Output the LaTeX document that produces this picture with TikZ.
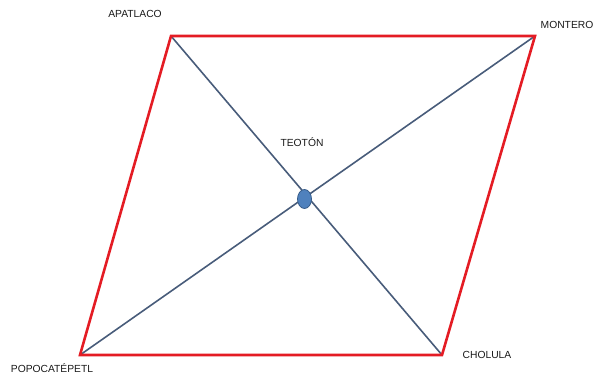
\documentclass[tikz,border=0pt]{standalone}
\usepackage{fontspec}
\setmainfont{Liberation Sans}
\definecolor{edgered}{RGB}{228,28,36}
\definecolor{diagblue}{RGB}{72,92,122}
\definecolor{hubfill}{RGB}{79,129,189}
\definecolor{hubdraw}{RGB}{56,93,138}
\usetikzlibrary{shapes.geometric}

\begin{document}
\begin{tikzpicture}[
        x=1pt, y=-1pt,
        font=\fontsize{10.3}{12}\selectfont,
        place/.style={
            inner sep=0pt,
            text=black!90
        },
        hub/.style={
            ellipse,
            draw=hubdraw,
            fill=hubfill,
            minimum width=14pt,
            minimum height=19pt,
            inner sep=0pt,
            line width=0.8pt
        },
        border/.style={draw=edgered, line width=2.6pt, line join=miter},
        diag/.style={draw=diagblue, line width=1.6pt}
    ]

    \useasboundingbox (0,0) rectangle (595,375);

    \coordinate (apatlaco) at (171,36);
    \coordinate (montero)  at (535,36);
    \coordinate (cholula)  at (442,355);
    \coordinate (popo)     at (80,355);

    \draw[diag] (apatlaco) -- (cholula);
    \draw[diag] (popo)     -- (montero);

    \draw[border] (apatlaco) -- (montero) -- (cholula) -- (popo) -- cycle;

    \node[hub] (teoton) at (304.5,199) {};

    \node[place] (lapat) at (135,14)  {APATLACO};
    \node[place] (lmont) at (567,25)  {MONTERO};
    \node[place] (lteot) at (302,142) {TEOTÓN};
    \node[place] (lchol) at (487,355) {CHOLULA};
    \node[place] (lpopo) at (52,368)  {POPOCATÉPETL};

\end{tikzpicture}
\end{document}
